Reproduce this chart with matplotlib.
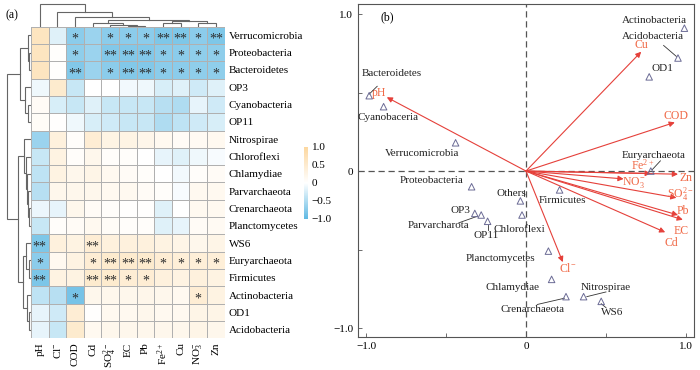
import numpy as np
import matplotlib
matplotlib.use('Agg')
import matplotlib.pyplot as plt
from matplotlib.colors import LinearSegmentedColormap, Normalize
from matplotlib.cm import ScalarMappable

plt.rcParams['font.family'] = ['Liberation Serif', 'DejaVu Serif']
plt.rcParams['mathtext.fontset'] = 'custom'
plt.rcParams['mathtext.rm'] = 'Liberation Serif'
plt.rcParams['mathtext.it'] = 'Liberation Serif:italic'
plt.rcParams['mathtext.default'] = 'regular'

# ---------------- data: heatmap ----------------
phyla = ['Verrucomicrobia', 'Proteobacteria', 'Bacteroidetes', 'OP3', 'Cyanobacteria',
         'OP11', 'Nitrospirae', 'Chloroflexi', 'Chlamydiae', 'Parvarchaeota',
         'Crenarchaeota', 'Planctomycetes', 'WS6', 'Euryarchaeota', 'Firmicutes',
         'Actinobacteria', 'OD1', 'Acidobacteria']
env_cols = ['pH', 'Cl$^{-}$', 'COD', 'Cd', 'SO$_4^{2-}$', 'EC', 'Pb', 'Fe$^{2+}$',
            'Cu', 'NO$_3^{-}$', 'Zn']
corr = np.array([
    [0.65, -0.20, -0.72, -0.62, -0.72, -0.72, -0.72, -0.80, -0.80, -0.72, -0.80],
    [0.65, 0.03, -0.70, -0.62, -0.78, -0.78, -0.78, -0.72, -0.72, -0.70, -0.70],
    [0.65, 0.02, -0.78, -0.62, -0.72, -0.78, -0.78, -0.72, -0.72, -0.70, -0.70],
    [-0.10, 0.50, -0.35, 0.00, 0.00, -0.08, -0.10, -0.25, -0.20, -0.30, -0.20],
    [0.10, -0.25, -0.35, -0.20, -0.35, -0.35, -0.35, -0.45, -0.50, -0.15, -0.30],
    [0.08, 0.02, -0.10, -0.25, -0.30, -0.35, -0.35, -0.50, -0.40, -0.30, -0.25],
    [-0.62, 0.35, 0.05, 0.45, 0.28, 0.28, 0.22, 0.15, 0.10, 0.12, 0.15],
    [-0.35, 0.30, 0.05, 0.20, 0.05, 0.05, 0.00, -0.15, -0.20, -0.10, -0.05],
    [-0.40, 0.30, 0.20, 0.25, 0.15, 0.10, 0.05, 0.00, -0.08, 0.05, 0.10],
    [-0.45, 0.20, 0.20, 0.20, 0.15, 0.15, 0.10, 0.05, -0.05, 0.15, 0.15],
    [-0.12, -0.15, 0.20, 0.10, 0.05, 0.02, 0.02, -0.20, 0.00, 0.15, 0.15],
    [-0.35, 0.05, 0.10, 0.15, 0.08, 0.05, 0.05, -0.20, -0.15, 0.10, 0.12],
    [-0.80, 0.35, 0.30, 0.45, 0.35, 0.35, 0.35, 0.30, 0.25, 0.20, 0.25],
    [-0.72, 0.15, 0.30, 0.45, 0.50, 0.50, 0.50, 0.45, 0.40, 0.40, 0.40],
    [-0.82, 0.30, 0.30, 0.50, 0.50, 0.45, 0.45, 0.35, 0.30, 0.35, 0.30],
    [-0.40, -0.45, -0.85, 0.20, 0.20, 0.20, 0.22, 0.20, 0.15, 0.45, 0.30],
    [-0.15, -0.30, 0.45, 0.02, 0.15, 0.15, 0.20, 0.15, 0.15, 0.25, 0.25],
    [-0.15, -0.35, 0.50, 0.15, 0.20, 0.20, 0.20, 0.20, 0.20, 0.25, 0.20],
])
sig = [
    ['', '', '*', '', '*', '*', '*', '**', '**', '*', '**'],
    ['', '', '*', '', '**', '**', '**', '*', '*', '*', '*'],
    ['', '', '**', '', '*', '**', '**', '*', '*', '*', '*'],
    [''] * 11, [''] * 11, [''] * 11, [''] * 11, [''] * 11, [''] * 11,
    [''] * 11, [''] * 11, [''] * 11,
    ['**', '', '', '**', '', '', '', '', '', '', ''],
    ['*', '', '', '*', '**', '**', '**', '*', '*', '*', '*'],
    ['**', '', '', '**', '**', '*', '*', '', '', '', ''],
    ['', '', '*', '', '', '', '', '', '', '*', ''],
    [''] * 11, [''] * 11,
]
# dendrogram links: (child a, child b, height)
row_links = [(1, 2, 1.5), (0, 18, 3.0), (4, 5, 3.0), (3, 20, 6.0), (19, 21, 11.0),
             (10, 11, 1.5), (9, 23, 2.5), (8, 24, 3.5), (7, 25, 4.5), (6, 26, 7.0),
             (13, 14, 2.0), (12, 28, 5.0), (16, 17, 2.0), (15, 30, 4.0), (29, 31, 8.3),
             (27, 32, 12.7), (22, 33, 23.7)]
col_links = [(5, 6, 0.5), (4, 11, 1.2), (3, 12, 3.7), (7, 8, 3.2), (9, 10, 3.2),
             (14, 15, 6.0), (13, 16, 6.9), (2, 17, 9.4), (1, 18, 14.2), (0, 19, 22.7)]

# ---------------- data: RDA ----------------
sp_names = ['Actinobacteria', 'Acidobacteria', 'OD1', 'Bacteroidetes', 'Cyanobacteria',
            'Verrucomicrobia', 'Euryarchaeota', 'Proteobacteria', 'Firmicutes', 'Others',
            'OP3', 'Parvarchaeota', 'OP11', 'Chloroflexi', 'Planctomycetes', 'Chlamydiae',
            'Crenarchaeota', 'Nitrospirae', 'WS6']
sp_x = [0.99, 0.95, 0.77, -0.98, -0.89, -0.44, 0.78, -0.34, 0.21, -0.035,
        -0.32, -0.28, -0.24, -0.025, 0.14, 0.16, 0.25, 0.36, 0.47]
sp_y = [0.91, 0.72, 0.60, 0.48, 0.41, 0.18, 0.00, -0.10, -0.12, -0.19,
        -0.27, -0.28, -0.32, -0.28, -0.51, -0.69, -0.80, -0.80, -0.83]
env_names = ['pH', 'Cu', 'COD', 'Fe$^{2+}$', 'Zn', 'NO$_3^{-}$', 'SO$_4^{2-}$', 'Pb',
             'EC', 'Cd', 'Cl$^{-}$']
env_x = [-0.87, 0.72, 0.93, 0.78, 0.95, 0.61, 0.94, 0.95, 0.98, 0.87, 0.23]
env_y = [0.47, 0.76, 0.31, -0.015, -0.02, -0.05, -0.17, -0.28, -0.31, -0.39, -0.58]

# label layout (text, x, y) and leader lines
sp_label_pos = {
    'Actinobacteria': ('Actinobacteria', 0.80, 0.96),
    'Acidobacteria': ('Acidobacteria', 0.79, 0.86),
    'OD1': ('OD1', 0.85, 0.65),
    'Bacteroidetes': ('Bacteroidetes', -0.84, 0.62),
    'Cyanobacteria': ('Cyanobaceria', -0.86, 0.34),
    'Verrucomicrobia': ('Verrucomicrobia', -0.65, 0.11),
    'Euryarchaeota': ('Euryarchaeota', 0.80, 0.10),
    'Proteobacteria': ('Proteobacteria', -0.59, -0.06),
    'Firmicutes': ('Firmicutes', 0.23, -0.19),
    'Others': ('Others', -0.09, -0.14),
    'OP3': ('OP3', -0.41, -0.25),
    'Parvarchaeota': ('Parvarcharota', -0.55, -0.35),
    'OP11': ('OP11', -0.25, -0.41),
    'Chloroflexi': ('Chloroflexi', -0.04, -0.37),
    'Planctomycetes': ('Planctomycetes', -0.16, -0.56),
    'Chlamydiae': ('Chlamydiae', -0.085, -0.74),
    'Crenarchaeota': ('Crenarchaeota', 0.04, -0.885),
    'Nitrospirae': ('Nitrospirae', 0.50, -0.74),
    'WS6': ('WS6', 0.54, -0.90),
}
leaders = [((0.86, 0.80), (0.94, 0.73)), ((-0.93, 0.54), (-0.98, 0.49)),
           ((0.84, 0.065), (0.79, 0.01)), ((-0.42, -0.33), (-0.31, -0.29)),
           ((-0.24, -0.345), (-0.24, -0.375)), ((0.07, -0.85), (0.24, -0.81)),
           ((0.50, -0.77), (0.38, -0.80)), ((0.50, -0.87), (0.47, -0.845)),
           ((-0.01, -0.12), (-0.01, -0.16))]
env_label_pos = {
    'pH': (-0.92, 0.50), 'Cu': (0.72, 0.80), 'COD': (0.94, 0.35), 'Fe$^{2+}$': (0.73, 0.035),
    'Zn': (1.0, -0.045), 'NO$_3^{-}$': (0.67, -0.075), 'SO$_4^{2-}$': (0.965, -0.15),
    'Pb': (0.98, -0.255), 'EC': (0.97, -0.38), 'Cd': (0.91, -0.46), 'Cl$^{-}$': (0.26, -0.62),
}

W, H = 700, 370
fig = plt.figure(figsize=(7, 3.7), dpi=100)

def frac(x0, y0, x1, y1):
    return [x0 / W, 1 - y1 / H, (x1 - x0) / W, (y1 - y0) / H]

cmap = LinearSegmentedColormap.from_list('bo', ['#5fb9e3', '#ffffff', '#fcd79f'])

# heatmap
hx0, hy0, hx1, hy1 = 31, 26.7, 224.7, 338.3
axh = fig.add_axes(frac(hx0, hy0, hx1, hy1))
nr, nc = corr.shape
axh.pcolormesh(np.arange(nc + 1), np.arange(nr + 1), corr, cmap=cmap, vmin=-1, vmax=1,
               edgecolors='#b0b0b0', linewidth=0.7)
axh.set_xlim(0, nc)
axh.set_ylim(nr, 0)
for i in range(nr):
    for j in range(nc):
        if sig[i][j]:
            axh.text(j + 0.5, i + 0.72, sig[i][j], ha='center', va='center',
                     fontsize=10, color='#2e2e2e')
axh.yaxis.tick_right()
axh.set_yticks(np.arange(nr) + 0.5)
axh.set_yticklabels(phyla, fontsize=8)
axh.set_xticks(np.arange(nc) + 0.5)
axh.set_xticklabels(env_cols, fontsize=8, rotation=90)
axh.tick_params(length=0, pad=3)
for s in axh.spines.values():
    s.set_visible(False)

def dendro_segs(n, links):
    pos = {i: i + 0.5 for i in range(n)}
    hgt = {i: 0.0 for i in range(n)}
    segs = []
    for k, (a, b, h) in enumerate(links):
        segs.append(([pos[a], pos[a], pos[b], pos[b]], [hgt[a], h, h, hgt[b]]))
        pos[n + k] = (pos[a] + pos[b]) / 2
        hgt[n + k] = h
    return segs

dcol = '#666666'
axc = fig.add_axes(frac(hx0, 0, hx1, hy0))
for xs, ys in dendro_segs(nc, col_links):
    axc.plot(xs, ys, color=dcol, lw=0.8, solid_joinstyle='miter')
axc.set_xlim(0, nc)
axc.set_ylim(0, hy0)
axc.axis('off')

axr = fig.add_axes(frac(0, hy0, hx0, hy1))
for ps, hs in dendro_segs(nr, row_links):
    axr.plot(hs, ps, color=dcol, lw=0.8, solid_joinstyle='miter')
axr.set_ylim(nr, 0)
axr.set_xlim(hx0, 0)
axr.axis('off')

# colorbar
axcb = fig.add_axes(frac(303.5, 147, 307.5, 219))
cb = fig.colorbar(ScalarMappable(norm=Normalize(-1, 1), cmap=cmap), cax=axcb)
cb.outline.set_visible(False)
cb.set_ticks([1.0, 0.5, 0, -0.5, -1.0])
cb.set_ticklabels(['1.0', '0.5', '0', '\u22120.5', '\u22121.0'])
axcb.tick_params(length=0, labelsize=8, pad=3)

fig.text(12 / W, 1 - 15 / H, '(a)', fontsize=8.5, ha='center', va='center')

# RDA panel
axb = fig.add_axes(frac(358, 4, 694, 337))
axb.set_xlim(-1.05, 1.05)
axb.set_ylim(-1.057, 1.064)
axb.axhline(0, color='#555555', lw=0.9, ls=(0, (5, 3)), zorder=1)
axb.axvline(0, color='#555555', lw=0.9, ls=(0, (5, 3)), zorder=1)
axb.set_xticks([-1.0, 0, 1.0])
axb.set_xticklabels(['\u22121.0', '0', '1.0'])
axb.set_yticks([-1.0, 0, 1.0])
axb.set_yticklabels(['\u22121.0', '0', '1.0'])
axb.set_xticks([-0.5, 0.5], minor=True)
axb.set_yticks([-0.5, 0.5], minor=True)
axb.tick_params(which='both', direction='in', length=3, labelsize=8, width=0.6, color='#555555')
for s in axb.spines.values():
    s.set_color('#555555')
    s.set_linewidth(0.8)

acol = '#e5403a'
lcol = '#f06a48'
for nm, ex, ey in zip(env_names, env_x, env_y):
    axb.annotate('', xy=(ex, ey), xytext=(0, 0),
                 arrowprops=dict(arrowstyle='-|>', color=acol, lw=0.8,
                                 mutation_scale=8, shrinkA=0, shrinkB=0), zorder=3)
    lx, ly = env_label_pos[nm]
    axb.text(lx, ly, nm, color=lcol, fontsize=8.5, ha='center', va='center', zorder=4)

axb.scatter(sp_x, sp_y, marker='^', s=22, facecolors='none', edgecolors='#6b6b95',
            linewidths=0.7, zorder=5)
for nm in sp_names:
    t, lx, ly = sp_label_pos[nm]
    axb.text(lx, ly, t, fontsize=8, ha='center', va='center', color='#222222', zorder=4)
for (x0, y0), (x1, y1) in leaders:
    axb.plot([x0, x1], [y0, y1], color='#333333', lw=0.6, zorder=4)

axb.text(-0.87, 0.98, '(b)', fontsize=8.5, ha='center', va='center')

fig.savefig('out.png', dpi=100)
